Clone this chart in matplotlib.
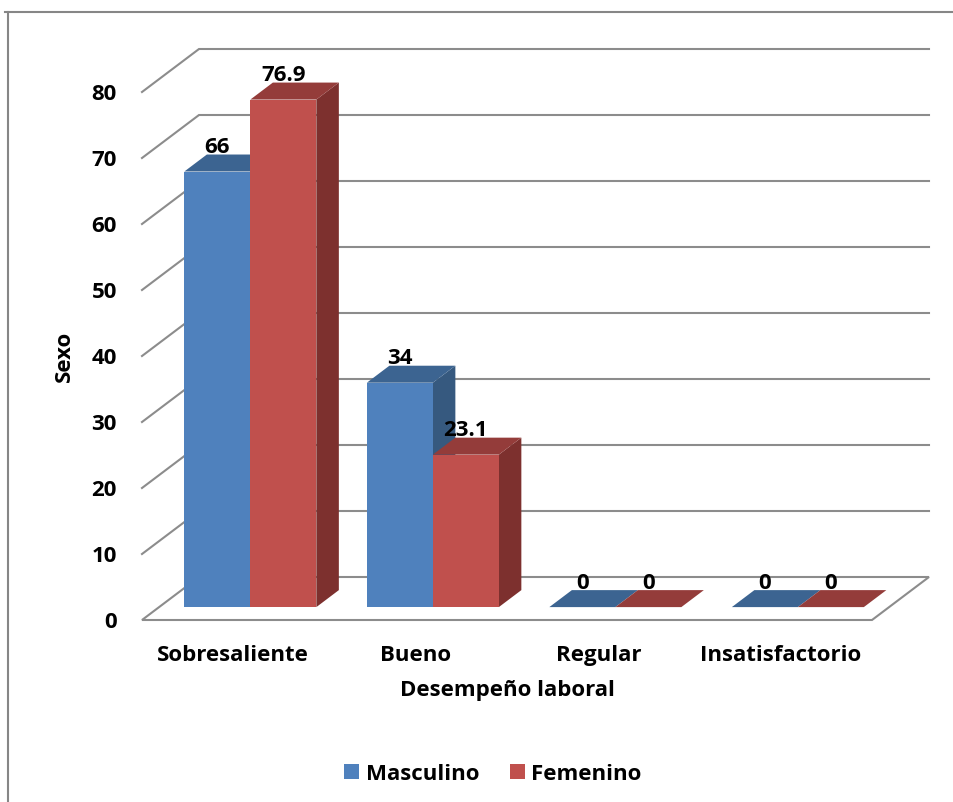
import matplotlib.pyplot as plt
from matplotlib.patches import Polygon, Patch
from matplotlib.lines import Line2D

categories = ['Sobresaliente', 'Bueno', 'Regular', 'Insatisfactorio']
masculino = [66, 34, 0, 0]
femenino = [76.9, 23.1, 0, 0]
series_names = ['Masculino', 'Femenino']
yticks = [0, 10, 20, 30, 40, 50, 60, 70, 80]

# face colours per series: front, top, side
faces = [('#4F81BD', '#3C6491', '#36597F'),
         ('#C0504D', '#943C3A', '#7D302E')]
grid_color = '#8C8C8C'
FS = 16

plt.rcParams['font.family'] = ['Open Sans', 'DejaVu Sans']
plt.rcParams['font.weight'] = 'bold'

W, H = 954, 802
fig = plt.figure(figsize=(W / 100, H / 100), dpi=100)
ax = fig.add_axes([142 / W, (H - 620) / H, 730 / W, 590 / H])
ax.set_xlim(-0.5, len(categories) - 0.5)
ax.set_ylim(0, 590 / 6.6)
for s in ax.spines.values():
    s.set_visible(False)
ax.patch.set_visible(False)

# oblique depth of the floor, in data units
DX, DY = 0.3123, 6.515
bar_w = 0.3616
d0, d1 = 0.30, 0.695   # bar depth span as a fraction of the floor depth

x0, x1 = -0.5, len(categories) - 0.5

# back wall gridlines and left diagonals
for v in yticks[1:]:
    ax.plot([x0, x0 + DX, x1 + DX], [v, v + DY, v + DY], color=grid_color,
            lw=1.5, zorder=1, clip_on=False, solid_joinstyle='miter')
# floor outline
ax.add_patch(Polygon([(x0, 0), (x1, 0), (x1 + DX, DY), (x0 + DX, DY)],
                     closed=True, fill=False, edgecolor=grid_color, lw=1.5,
                     zorder=1, clip_on=False))


def draw_bar(xl, val, cols):
    front, top, side = cols
    xr = xl + bar_w
    fx, fy = d0 * DX, d0 * DY
    bx, by = d1 * DX, d1 * DY
    ax.add_patch(Polygon([(xr + fx, fy), (xr + bx, by), (xr + bx, val + by),
                          (xr + fx, val + fy)], closed=True, facecolor=side,
                         edgecolor='none', zorder=3, clip_on=False))
    ax.add_patch(Polygon([(xl + fx, val + fy), (xr + fx, val + fy),
                          (xr + bx, val + by), (xl + bx, val + by)],
                         closed=True, facecolor=top, edgecolor='none',
                         zorder=3, clip_on=False))
    if val > 0:
        ax.add_patch(Polygon([(xl + fx, fy), (xr + fx, fy), (xr + fx, val + fy),
                              (xl + fx, val + fy)], closed=True,
                             facecolor=front, edgecolor='none', zorder=3,
                             clip_on=False))


for i in range(len(categories)):
    for j, vals in enumerate([masculino, femenino]):
        xl = i - bar_w + j * bar_w
        draw_bar(xl, vals[i], faces[j])

# value labels above each bar
for i in range(len(categories)):
    for j, vals in enumerate([masculino, femenino]):
        xc = i - bar_w + (j + 0.5) * bar_w + d0 * DX
        ax.annotate(f'{vals[i]:g}', (xc, vals[i] + d1 * DY),
                    xytext=(0, 1), textcoords='offset points',
                    ha='center', va='baseline', fontsize=FS,
                    fontweight='bold', zorder=5, annotation_clip=False)

ax.set_yticks(yticks)
ax.set_xticks(range(len(categories)))
ax.set_xticklabels(categories)
ax.tick_params(axis='both', length=0, labelsize=FS)
ax.tick_params(axis='y', pad=18)
ax.tick_params(axis='x', pad=18)

ax.set_xlabel('Desempeño laboral', fontsize=FS, fontweight='bold', labelpad=10)
ax.set_ylabel('Sexo', fontsize=FS, fontweight='bold')
ax.yaxis.set_label_coords(-0.865, 40, transform=ax.transData)

handles = [Patch(facecolor=faces[k][0], edgecolor='none', label=series_names[k])
           for k in range(2)]
fig.legend(handles=handles, loc='center', bbox_to_anchor=(493 / W, 28 / H),
           ncol=2, frameon=False, fontsize=FS, handlelength=0.65,
           handleheight=0.65, handletextpad=0.3, columnspacing=1.4)

# chart area border
fig.add_artist(Line2D([5 / W, 1], [1 - 12 / H, 1 - 12 / H], color='#868686',
                      lw=1.5, transform=fig.transFigure))
fig.add_artist(Line2D([8 / W, 8 / W], [0, 1 - 12 / H], color='#868686',
                      lw=1.5, transform=fig.transFigure))

fig.savefig('out.png', dpi=100)
